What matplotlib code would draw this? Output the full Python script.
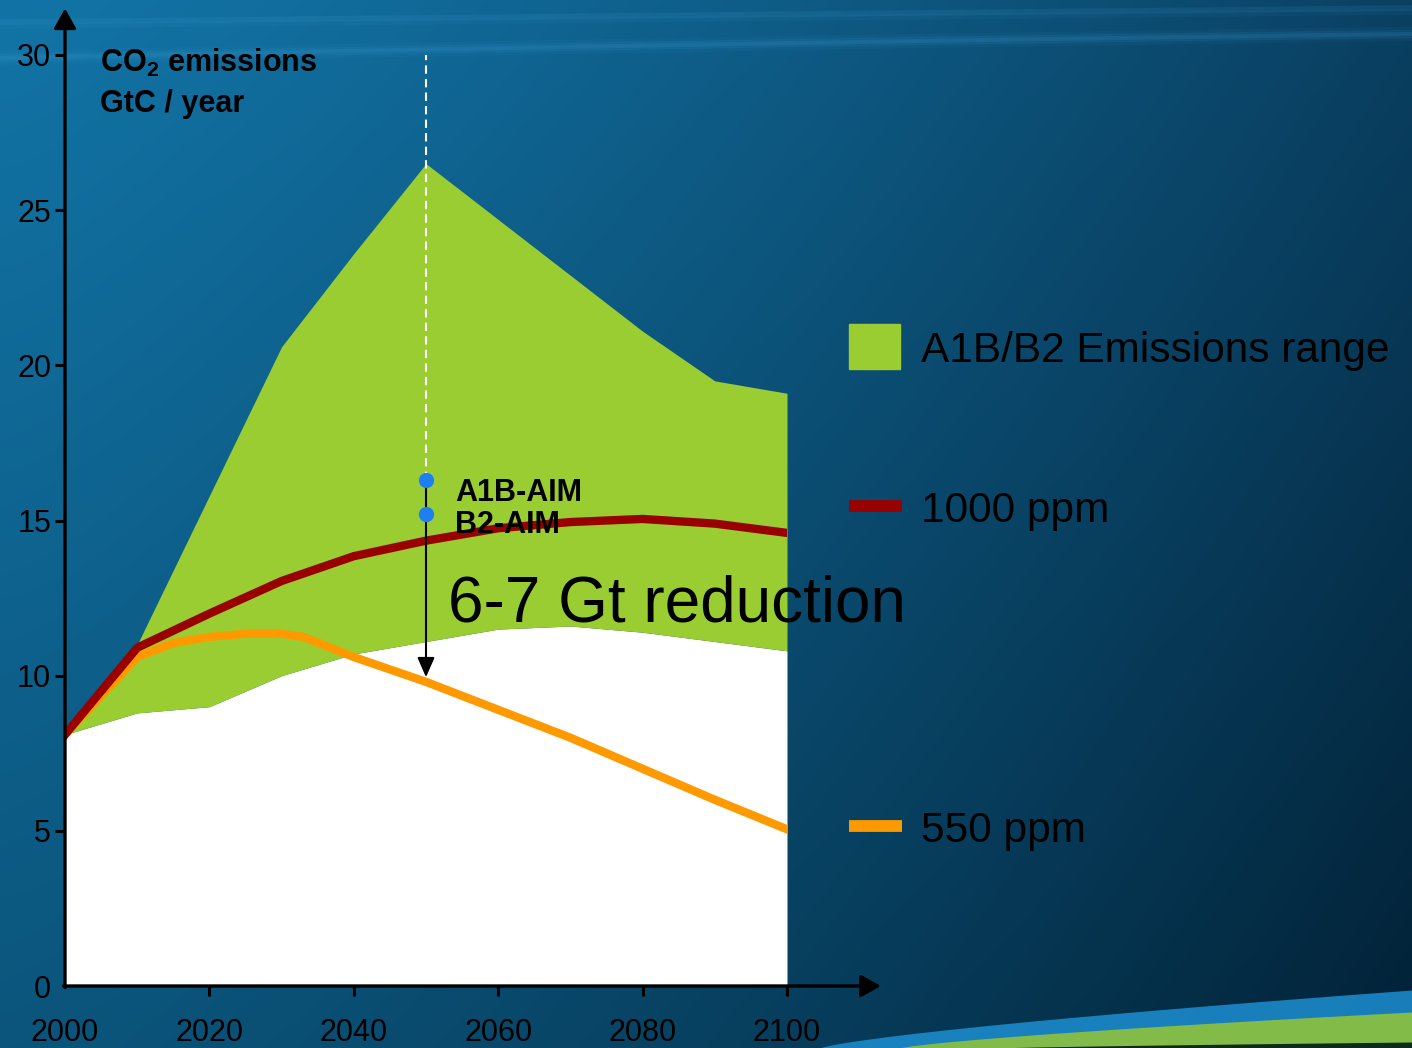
import numpy as np
import matplotlib.pyplot as plt
from matplotlib.patches import Rectangle

plt.rcParams['font.family'] = ['Liberation Sans', 'DejaVu Sans']
plt.rcParams['mathtext.fontset'] = 'custom'
plt.rcParams['mathtext.rm'] = 'Liberation Sans'
plt.rcParams['mathtext.bf'] = 'Liberation Sans:bold'

# emissions scenarios, GtC / year
years = [2000, 2010, 2020, 2030, 2040, 2050, 2060, 2070, 2080, 2090, 2100]
range_high = [8.1, 11.0, 15.8, 20.6, 23.6, 26.5, 24.7, 22.9, 21.1, 19.5, 19.1]
range_low = [8.1, 8.8, 9.0, 10.0, 10.7, 11.1, 11.5, 11.6, 11.4, 11.1, 10.8]
ppm1000 = [8.1, 10.9, 12.0, 13.05, 13.85, 14.35, 14.75, 14.95, 15.05, 14.9, 14.6]
ppm550_years = [2000, 2010, 2015, 2020, 2025, 2030, 2033, 2040, 2050, 2060, 2070, 2080, 2090, 2100]
ppm550 = [8.1, 10.6, 11.05, 11.25, 11.35, 11.35, 11.25, 10.6, 9.8, 8.9, 8.0, 7.0, 6.0, 5.05]

aim_year = 2050
a1b_aim = 16.3
b2_aim = 15.2
reduction_to = 9.95

x_ticks = [2000, 2020, 2040, 2060, 2080, 2100]
y_ticks = [0, 5, 10, 15, 20, 25, 30]

GREEN = '#9acd32'
RED = '#990000'
ORANGE = '#ff9900'

W, H = 1412, 1048
fig = plt.figure(figsize=(W / 100, H / 100), dpi=100)

# slide background: blue gradient with a few light streaks
bg = fig.add_axes([0, 0, 1, 1], zorder=0)
bg.set_xlim(0, W)
bg.set_ylim(H, 0)
bg.axis('off')
u = np.linspace(0, 1, W)[None, :, None]
v = np.linspace(0, 1, H)[:, None, None]
c_tl = np.array([0x12, 0x74, 0xa6]) / 255
c_bl = np.array([0x0b, 0x55, 0x7c]) / 255
c_tr = np.array([0x0a, 0x40, 0x62]) / 255
c_br = np.array([0x02, 0x22, 0x37]) / 255
uu = u ** 1.3
grad = (c_tl * (1 - uu) * (1 - v) + c_tr * uu * (1 - v)
        + c_bl * (1 - uu) * v + c_br * uu * v)
bg.imshow(grad, extent=(0, W, H, 0), aspect='auto', zorder=0)

sx = np.linspace(0, W, 200)
sv = sx / W
for off, a in [(0, 0.16), (2, 0.12), (-2, 0.12), (5, 0.06), (-5, 0.06)]:
    bg.plot(sx, 58 - 30 * sv + 6 * sv ** 2 + off, color='#3fa0d8', lw=3, alpha=a, zorder=1)
for off, a in [(0, 0.12), (4, 0.06)]:
    bg.plot(sx, 22 - 14 * sv + off, color='#4aa8e0', lw=4, alpha=a, zorder=1)

bx = np.linspace(820, W, 200)
t = (bx - 820) / (W - 820)
blue_top = H - 58 * t ** 0.75
green_top = H - 36 * np.clip((bx - 900) / (W - 900), 0, 1) ** 0.75
dark_top = H - 6 * np.clip((bx - 1000) / (W - 1000), 0, 1) ** 0.75
bg.fill_between(bx, blue_top, H, color='#1c8fd2', lw=0, alpha=0.85, zorder=1)
bg.fill_between(bx, green_top, H, color='#8fc23c', lw=0, alpha=0.9, zorder=1)
bg.fill_between(bx, dark_top, H, color='#0e2a1c', lw=0, zorder=1)

# main chart
ax = fig.add_axes([65 / W, 1 - 986 / H, 722 / W, 931 / H], zorder=2)
ax.patch.set_alpha(0)
ax.set_xlim(2000, 2100)
ax.set_ylim(0, 30)
for s in ax.spines.values():
    s.set_visible(False)

ax.fill_between(years, 0, range_low, color='white', lw=0, zorder=1)
ax.fill_between(years, range_low, range_high, color=GREEN, lw=0, zorder=1)
ax.plot(ppm550_years, ppm550, color=ORANGE, lw=6, zorder=3)
ax.plot(years, ppm1000, color=RED, lw=6, zorder=3)

# 2050 markers and reduction arrow
ax.plot([aim_year, aim_year], [a1b_aim, 30], color='white', lw=1.5,
        ls=(0, (4, 2.5)), zorder=4)
ax.annotate('', xy=(aim_year, reduction_to), xytext=(aim_year, a1b_aim),
            arrowprops=dict(arrowstyle='-|>,head_length=0.8,head_width=0.35',
                            mutation_scale=15, lw=1.5, color='black',
                            shrinkA=0, shrinkB=0), zorder=5)
ax.plot([aim_year, aim_year], [a1b_aim, b2_aim], 'o', color='#1f7ff0',
        ms=10, zorder=6)
ax.text(2054.0, 15.63, 'A1B-AIM', fontsize=22, fontweight='bold',
        va='baseline', zorder=7)
ax.text(2054.0, 14.6, 'B2-AIM', fontsize=22, fontweight='bold',
        va='baseline', zorder=7)
ax.text(2053.05, 11.73, '6-7 Gt reduction', fontsize=46, va='baseline',
        clip_on=False, zorder=7)

ax.text(2004.85, 29.45, r'CO$_\mathbf{2}$ emissions', fontsize=22,
        fontweight='bold', va='baseline', zorder=7)
ax.text(2004.85, 28.16, 'GtC / year', fontsize=22, fontweight='bold',
        va='baseline', zorder=7)

# axes drawn as arrows
arrow_kw = dict(arrowstyle='-|>,head_length=0.8,head_width=0.45',
                mutation_scale=15, lw=2.4, color='black', shrinkA=0, shrinkB=0)
ax.annotate('', xy=(2113, 0), xytext=(1999.8, 0), arrowprops=arrow_kw,
            annotation_clip=False, zorder=8)
ax.annotate('', xy=(2000, 31.5), xytext=(2000, -0.05), arrowprops=arrow_kw,
            annotation_clip=False, zorder=8)

ax.set_xticks(x_ticks)
ax.set_yticks(y_ticks)
ax.tick_params(axis='x', direction='out', length=7, width=2.2, pad=16,
               labelsize=22, colors='black')
ax.tick_params(axis='y', direction='out', length=7, width=2.2, pad=3,
               labelsize=22, colors='black')
ax.xaxis.get_major_ticks()[0].tick1line.set_visible(False)
ax.yaxis.get_major_ticks()[0].tick1line.set_visible(False)

# legend keys
bg.add_patch(Rectangle((849, 324), 51, 45, color=GREEN, zorder=3))
bg.text(921, 362, 'A1B/B2 Emissions range', fontsize=30.5, va='baseline', zorder=3)
bg.plot([849, 902], [506, 506], color=RED, lw=8.5, solid_capstyle='butt', zorder=3)
bg.text(921, 522, '1000 ppm', fontsize=30.5, va='baseline', zorder=3)
bg.plot([849, 902], [826, 826], color=ORANGE, lw=8.5, solid_capstyle='butt', zorder=3)
bg.text(921, 842, '550 ppm', fontsize=30.5, va='baseline', zorder=3)

fig.savefig('out.png', dpi=100)
